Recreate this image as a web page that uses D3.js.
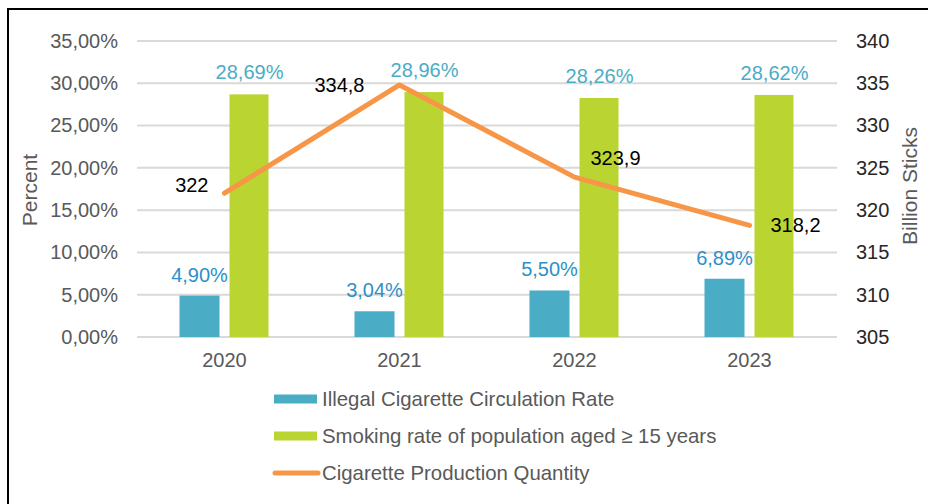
<!DOCTYPE html>
<html>
<head>
<meta charset="utf-8">
<script src="https://cdn.jsdelivr.net/npm/d3@7"></script>
<style>
  html, body { margin: 0; padding: 0; background: #fff; }
  svg { display: block; font-family: "Liberation Sans", Arial, sans-serif; }
</style>
</head>
<body>
<svg id="chart" width="928" height="504"></svg>
<script>
const years = ["2020", "2021", "2022", "2023"];
const illegalRate = [4.90, 3.04, 5.50, 6.89];
const smokingRate = [28.69, 28.96, 28.26, 28.62];
const production = [322, 334.8, 323.9, 318.2];
const leftTicks = [0, 5, 10, 15, 20, 25, 30, 35];
const rightTicks = [305, 310, 315, 320, 325, 330, 335, 340];
const seriesNames = ["Illegal Cigarette Circulation Rate", "Smoking rate of population aged \u2265 15 years", "Cigarette Production Quantity"];
const lineLabelSide = ["left", "left", "right", "right"];

const colors = { blue: "#4BACC6", green: "#BAD532", orange: "#F79646", grid: "#D9D9D9" };
const svg = d3.select("#chart");
const m = { left: 137, right: 837, top: 41, bottom: 337 };

// outer frame
svg.append("rect").attr("x", 8).attr("y", 9).attr("width", 940).attr("height", 520)
  .attr("fill", "none").attr("stroke", "#000").attr("stroke-width", 2);

const x = d3.scaleBand().domain(years).range([m.left, m.right]);
const yL = d3.scaleLinear().domain([0, 35]).range([m.bottom, m.top]);
const yR = d3.scaleLinear().domain([305, 340]).range([m.bottom, m.top]);
const fmtPct = v => d3.format(".2f")(v).replace(".", ",") + "%";
const fmtNum = v => String(v).replace(".", ",");

// gridlines
svg.append("g").selectAll("line").data(leftTicks).join("line")
  .attr("x1", m.left).attr("x2", m.right)
  .attr("y1", d => yL(d)).attr("y2", d => yL(d))
  .attr("stroke", colors.grid).attr("stroke-width", 2);

// left axis
const gL = svg.append("g").attr("transform", `translate(${m.left - 19},0)`)
  .call(d3.axisLeft(yL).tickValues(leftTicks).tickSize(0).tickPadding(0).tickFormat(fmtPct));
gL.select(".domain").remove();
gL.selectAll("text").attr("font-size", 20).attr("fill", "#595959").attr("font-family", "Liberation Sans, Arial, sans-serif");

// right axis
const gR = svg.append("g").attr("transform", `translate(${m.right + 19},0)`)
  .call(d3.axisRight(yR).tickValues(rightTicks).tickSize(0).tickPadding(0));
gR.select(".domain").remove();
gR.selectAll("text").attr("font-size", 20).attr("fill", "#262626").attr("font-family", "Liberation Sans, Arial, sans-serif");

// x axis labels
const gX = svg.append("g").attr("transform", `translate(0,${m.bottom + 16})`)
  .call(d3.axisBottom(x).tickSize(0).tickPadding(0));
gX.select(".domain").remove();
gX.selectAll("text").attr("font-size", 20).attr("fill", "#595959").attr("font-family", "Liberation Sans, Arial, sans-serif");

// axis titles
svg.append("text").attr("transform", `translate(37,190) rotate(-90)`)
  .attr("text-anchor", "middle").attr("font-size", 21).attr("fill", "#595959").text("Percent");
svg.append("text").attr("transform", `translate(917,186) rotate(-90)`)
  .attr("text-anchor", "middle").attr("font-size", 21).attr("fill", "#595959").text("Billion Sticks");

const bw = 40;
const cx = d => x(d) + x.bandwidth() / 2;

// bars
svg.append("g").selectAll("rect").data(years).join("rect")
  .attr("x", (d) => cx(d) - 45).attr("width", bw)
  .attr("y", (d, i) => yL(illegalRate[i])).attr("height", (d, i) => yL(0) - yL(illegalRate[i]))
  .attr("fill", colors.blue);
svg.append("g").selectAll("rect").data(years).join("rect")
  .attr("x", (d) => cx(d) + 5).attr("width", bw - 1)
  .attr("y", (d, i) => yL(smokingRate[i])).attr("height", (d, i) => yL(0) - yL(smokingRate[i]))
  .attr("fill", colors.green);

// bar labels
svg.append("g").selectAll("text").data(years).join("text")
  .attr("x", d => cx(d) - 25).attr("y", (d, i) => yL(illegalRate[i]) - 14)
  .attr("text-anchor", "middle").attr("font-size", 20).attr("fill", "#2E90C8")
  .text((d, i) => fmtPct(illegalRate[i]));
svg.append("g").selectAll("text").data(years).join("text")
  .attr("x", d => cx(d) + 25).attr("y", (d, i) => yL(smokingRate[i]) - 15)
  .attr("text-anchor", "middle").attr("font-size", 20).attr("fill", "#4BACC6")
  .text((d, i) => fmtPct(smokingRate[i]));

// line
const line = d3.line().x((d, i) => cx(years[i])).y(d => yR(d));
svg.append("path").datum(production).attr("d", line)
  .attr("fill", "none").attr("stroke", colors.orange).attr("stroke-width", 5)
  .attr("stroke-linecap", "round").attr("stroke-linejoin", "round");

// line labels
const lineLabelDx = [-16, -35, 16, 21];
const lineLabelDy = [-1, 7, -12, 7];
svg.append("g").selectAll("text").data(production).join("text")
  .attr("x", (d, i) => cx(years[i]) + lineLabelDx[i])
  .attr("y", (d, i) => yR(d) + lineLabelDy[i])
  .attr("text-anchor", (d, i) => lineLabelSide[i] === "left" ? "end" : "start")
  .attr("font-size", 20).attr("fill", "#000")
  .text(d => fmtNum(d));

// legend
const leg = svg.append("g");
const legY = [399, 436, 473];
leg.append("rect").attr("x", 274).attr("y", legY[0] - 4.5).attr("width", 43).attr("height", 9).attr("fill", colors.blue);
leg.append("rect").attr("x", 274).attr("y", legY[1] - 4.5).attr("width", 43).attr("height", 9).attr("fill", colors.green);
leg.append("line").attr("x1", 275).attr("x2", 318).attr("y1", legY[2]).attr("y2", legY[2])
  .attr("stroke", colors.orange).attr("stroke-width", 5).attr("stroke-linecap", "round");
leg.selectAll("text").data(seriesNames).join("text")
  .attr("x", 322).attr("y", (d, i) => legY[i]).attr("dy", "0.35em")
  .attr("font-size", 20.4).attr("fill", "#595959").text(d => d);
</script>
</body>
</html>
